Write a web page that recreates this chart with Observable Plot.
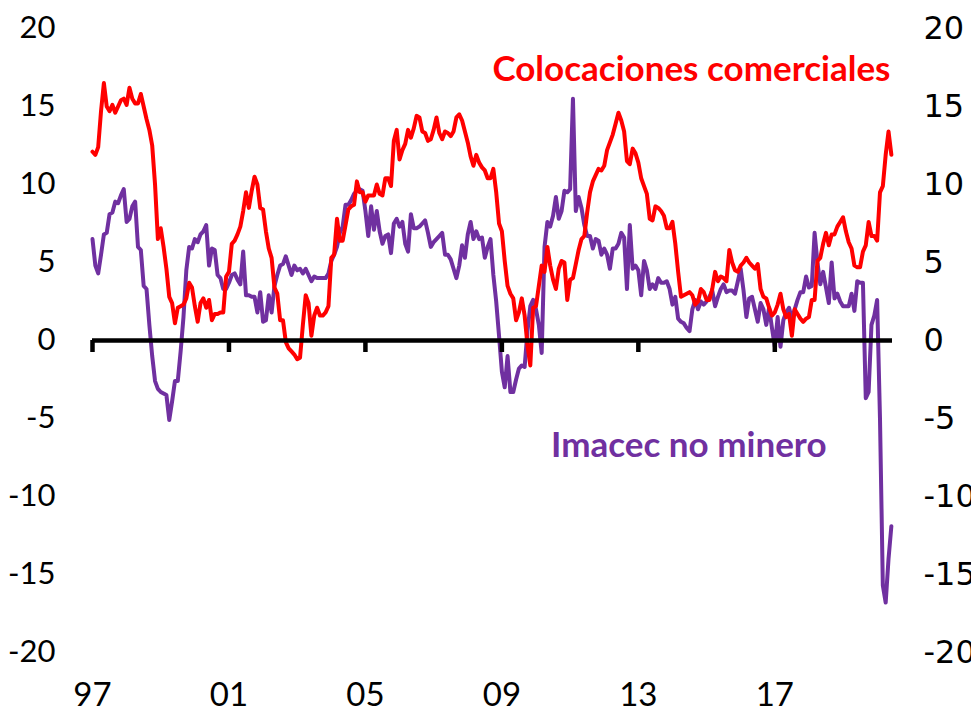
<!DOCTYPE html>
<html>
<head>
<meta charset="utf-8">
<script src="https://cdn.jsdelivr.net/npm/d3@7"></script>
<script src="https://cdn.jsdelivr.net/npm/@observablehq/plot@0.6"></script>
<style>
  html, body { margin: 0; padding: 0; background: #ffffff; overflow: hidden; }
  #chart svg { display: block; }
</style>
</head>
<body>
<div id="chart"></div>
<script>
// ---- Data (monthly, y/y % change), Jan 1997 onwards ----
const startYear = 1997;

const colocaciones = [
  12.1, 11.9, 12.4, 14.7, 16.5, 15.0, 14.7, 15.1, 14.6, 15.0, 15.4, 15.5,
  15.1, 16.2, 15.5, 15.2, 15.2, 15.8, 15.0, 14.2, 13.5, 12.5, 10.0, 6.5,
  7.2, 6.0, 4.6, 2.8, 2.4, 1.1, 2.1, 2.2, 2.3, 2.7, 3.7, 3.4,
  2.2, 1.2, 2.4, 2.7, 2.1, 2.6, 1.3, 1.7, 1.7, 1.8, 1.8, 4.1,
  4.4, 6.2, 6.4, 6.8, 7.3, 8.3, 9.5, 8.5, 9.6, 10.5, 10.0, 8.5,
  8.4, 7.0, 5.9, 5.3, 3.4, 3.0, 1.3, 1.3, -0.1, -0.5, -0.7, -0.9,
  -1.2, -1.1, 1.0, 2.9, 2.4, 0.3, 1.6, 2.1, 1.6, 1.6, 1.8, 2.2,
  5.3, 5.5, 7.8, 6.4, 6.4, 7.4, 8.4, 8.6, 8.7, 10.2, 9.5, 9.5,
  8.9, 9.3, 9.3, 9.3, 10.0, 9.4, 9.3, 10.4, 10.4, 9.9, 12.8, 13.5,
  11.6, 12.2, 12.6, 13.5, 13.0, 13.6, 14.4, 14.3, 13.4, 13.3, 12.8, 12.9,
  13.5, 14.3, 13.3, 12.9, 13.4, 13.3, 13.1, 13.4, 14.3, 14.5, 14.1, 13.4,
  12.7, 11.8, 11.2, 11.9, 11.4, 11.1, 10.9, 10.4, 10.4, 11.0, 9.5, 7.5,
  7.0, 5.1, 3.5, 3.0, 2.7, 1.3, 1.8, 2.7, 1.6, -0.3, -1.6, 2.1,
  2.2, 3.5, 4.8, 4.4, 6.0, 4.8, 3.9, 3.3, 4.6, 5.1, 5.0, 2.6,
  3.9, 4.0, 4.9, 5.8, 6.5, 6.7, 8.2, 9.5, 10.2, 10.6, 11.0, 10.9,
  11.2, 12.2, 12.7, 13.2, 13.9, 14.6, 14.1, 13.4, 11.5, 11.3, 12.3, 12.0,
  11.4, 10.4, 9.9, 9.4, 7.8, 7.7, 8.6, 8.5, 8.3, 8.0, 7.2, 7.2,
  7.6, 6.2, 4.4, 2.8, 2.9, 3.0, 3.1, 2.9, 2.3, 2.5, 3.3, 3.1,
  2.6, 2.6, 3.3, 4.4, 3.8, 4.1, 4.0, 3.8, 5.8, 5.0, 4.5, 4.4,
  4.8, 5.0, 5.3, 5.0, 4.8, 4.6, 4.9, 3.3, 2.8, 2.7, 2.1, 1.6,
  1.8, 2.3, 3.0, 2.0, 1.5, 1.7, 0.3, 2.0, 1.7, 1.4, 1.2, 1.4,
  1.5, 2.6, 2.6, 5.1, 5.3, 6.2, 6.9, 6.1, 6.8, 6.8, 7.3, 7.6,
  7.9, 7.0, 6.3, 5.9, 4.8, 4.7, 4.7, 5.7, 6.1, 7.6, 6.7, 6.7,
  6.4, 9.5, 9.9, 11.9, 13.4, 11.9
];

const imacecNoMinero = [
  6.5, 4.8, 4.3, 5.5, 6.8, 6.9, 8.1, 8.2, 8.9, 8.8, 9.3, 9.7,
  7.6, 7.8, 8.6, 8.9, 6.0, 5.8, 3.5, 3.3, 1.0, -1.0, -2.6, -3.1,
  -3.3, -3.4, -3.5, -5.1, -3.9, -2.6, -2.6, -0.7, 1.5, 4.5, 6.0, 5.9,
  6.5, 6.3, 6.8, 7.0, 7.4, 4.8, 5.9, 5.8, 4.2, 4.0, 3.3, 3.3,
  3.7, 4.2, 4.3, 3.9, 3.6, 5.7, 2.9, 2.9, 2.8, 2.8, 1.8, 3.1,
  1.2, 1.3, 2.9, 1.8, 3.5, 4.2, 4.8, 4.9, 5.4, 4.8, 4.2, 4.8,
  4.5, 4.6, 4.3, 4.6, 4.2, 3.8, 4.1, 4.0, 4.0, 4.0, 4.0, 4.3,
  5.1, 5.5, 6.0, 6.9, 7.3, 8.7, 8.7, 9.0, 9.4, 9.6, 9.7, 9.6,
  8.3, 6.7, 8.6, 7.1, 8.3, 7.0, 6.2, 6.7, 6.8, 5.6, 7.5, 7.8,
  7.3, 7.6, 6.2, 5.7, 8.1, 7.2, 7.2, 7.3, 7.5, 7.7, 6.9, 6.0,
  6.3, 6.5, 6.7, 6.9, 5.5, 5.5, 5.2, 4.6, 4.0, 4.8, 6.1, 5.3,
  6.8, 7.6, 6.5, 7.0, 6.5, 6.6, 5.3, 6.0, 6.5, 4.2, 2.5, 0.3,
  -2.0, -3.0, -1.0, -3.3, -3.3, -2.5, -1.8, -1.6, -1.7, 0.6, 2.2, 2.6,
  2.0, 1.0, -0.8, 6.0, 7.6, 7.3, 8.0, 9.2, 7.8, 8.3, 9.6, 9.5,
  9.7, 15.5, 8.3, 9.2, 8.5, 7.4, 6.7, 6.7, 5.9, 6.5, 6.4, 5.5,
  5.9, 5.5, 4.6, 5.9, 5.9, 6.2, 6.9, 6.6, 3.3, 7.4, 4.6, 4.8,
  4.5, 2.9, 5.1, 4.5, 3.3, 3.6, 3.3, 4.0, 3.7, 3.7, 3.8, 3.3,
  2.3, 2.8, 1.4, 1.2, 1.1, 0.8, 0.6, 2.0, 2.6, 2.0, 2.5, 2.3,
  2.5, 2.8, 3.2, 2.2, 2.8, 3.3, 3.6, 3.1, 3.2, 3.2, 3.0, 3.8,
  4.6, 3.2, 1.5, 2.7, 2.8, 2.0, 1.2, 2.4, 2.0, 1.0, 2.1, 0.8,
  -0.4, 1.5, -0.4, 1.3, 1.8, 2.1, 1.4, 2.0, 2.6, 3.1, 3.1, 4.1,
  3.4, 3.5, 6.9, 5.0, 3.6, 4.4, 3.4, 2.4, 5.0, 2.7, 3.0, 2.5,
  2.2, 2.2, 2.2, 3.0, 1.9, 3.8, 3.7, 3.7, -3.7, -3.3, 1.0, 1.6,
  2.6, -5.0, -15.7, -16.8, -14.0, -11.9
];

const yTicks = [20, 15, 10, 5, 0, -5, -10, -15, -20];
const xTickYears = [1997, 2001, 2005, 2009, 2013, 2017];
const xTickLabels = ["97", "01", "05", "09", "13", "17"];
const seriesNames = ["Colocaciones comerciales", "Imacec no minero"];
const seriesColors = ["#ff0000", "#7030a0"];

// ---- Build rows ----
const toRows = (values) => values.map((v, i) => ({t: startYear + i / 12, v}));
const redRows = toRows(colocaciones);
const purpleRows = toRows(imacecNoMinero);

const chart = Plot.plot({
  width: 971,
  height: 715,
  marginLeft: 92,
  marginRight: 79,
  marginTop: 28,
  marginBottom: 63,
  x: {type: "linear", domain: [1997, 2020.45], axis: null},
  y: {domain: [-20, 20], axis: null},
  marks: [
    // Left axis labels
    Plot.axisY(yTicks, {
      anchor: "left", tickSize: 0, tickPadding: 37, label: null,
      tickFormat: d => String(d),
      fontSize: 31, fontFamily: "Lato, 'Open Sans', sans-serif"
    }),
    // Right axis labels
    Plot.axisY(yTicks, {
      anchor: "right", tickSize: 0, tickPadding: 31, label: null,
      tickFormat: d => String(d),
      fontSize: 32, fontFamily: "'DejaVu Sans', Verdana, sans-serif"
    }),
    // Bottom year labels
    Plot.axisX(xTickYears, {
      anchor: "bottom", tickSize: 0, tickPadding: 30, label: null,
      tickFormat: d => xTickLabels[xTickYears.indexOf(d)],
      fontSize: 33, fontFamily: "Lato, 'Open Sans', sans-serif"
    }),
    // Series
    Plot.line(purpleRows, {x: "t", y: "v", stroke: seriesColors[1], strokeWidth: 4, strokeLinejoin: "round", strokeLinecap: "round"}),
    Plot.line(redRows, {x: "t", y: "v", stroke: seriesColors[0], strokeWidth: 4, strokeLinejoin: "round", strokeLinecap: "round"}),
    // Zero line and year ticks hanging below it
    Plot.ruleY([0], {stroke: "#000", strokeWidth: 4.5}),
    Plot.ruleX(xTickYears, {x: d => d, y1: 0, y2: 0, insetBottom: -12, stroke: "#000", strokeWidth: 4.5}),
    // Series labels
    Plot.text([seriesNames[0]], {
      text: d => d, frameAnchor: "top-right", textAnchor: "end", lineAnchor: "top",
      dx: -2, dy: 28, fill: seriesColors[0], fontWeight: "bold", fontSize: 35,
      fontFamily: "Lato, 'Open Sans', sans-serif"
    }),
    Plot.text([seriesNames[1]], {
      text: d => d, frameAnchor: "right", textAnchor: "end", lineAnchor: "middle",
      dx: -66, dy: 105, fill: seriesColors[1], fontWeight: "bold", fontSize: 35,
      fontFamily: "Lato, 'Open Sans', sans-serif"
    })
  ]
});

document.getElementById("chart").appendChild(chart);
</script>
</body>
</html>
